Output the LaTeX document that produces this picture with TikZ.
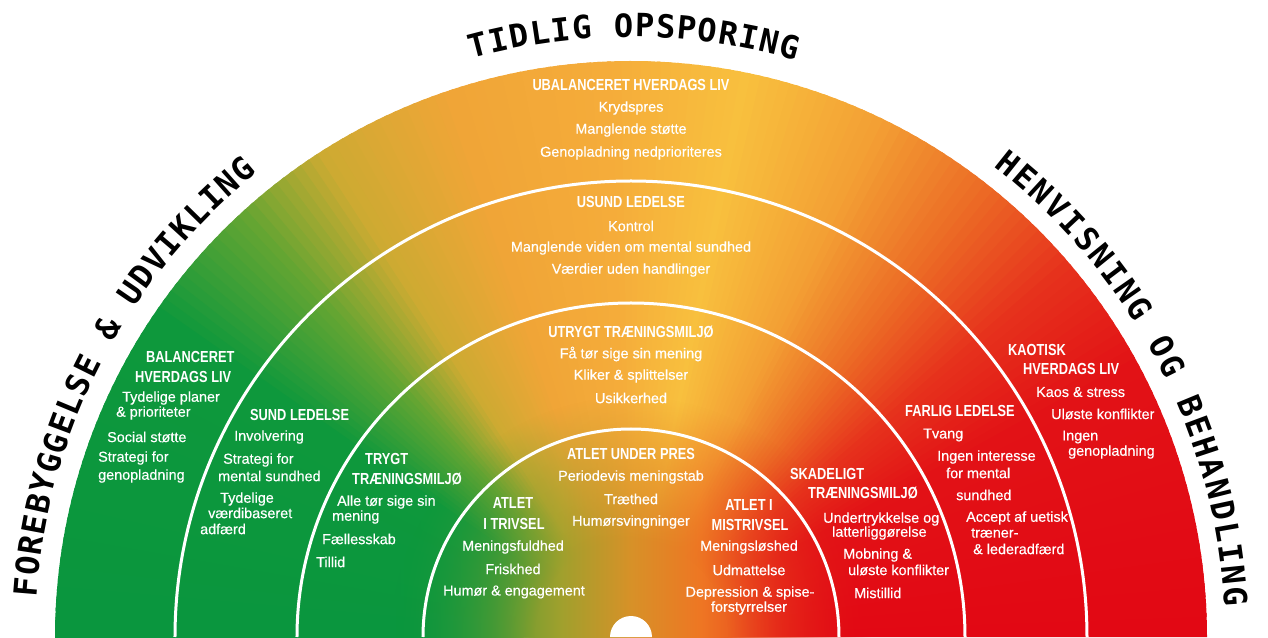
\documentclass[tikz,border=0pt]{standalone}
\usepackage{fontspec}
\setmainfont{Liberation Sans}
\newfontfamily\bodyfam{Liberation Sans}[FakeBold=0.4]
\newfontfamily\hdfam{Liberation Sans}[FakeStretch=0.8, UprightFont=* Bold]
\newfontfamily\ttlfam{DejaVu Sans Mono}[UprightFont=* Bold]
\newcommand\bodysize{\bodyfam\fontsize{14.4}{15}\selectfont}
\newcommand\hdsize{\hdfam\fontsize{16}{17}\selectfont}
\newcommand\ttlsize{\ttlfam\fontsize{32}{32}\selectfont}
\usetikzlibrary{decorations.text,fadings}
\definecolor{g0}{RGB}{10,150,62}
\definecolor{g1}{RGB}{14,152,60}
\definecolor{g2}{RGB}{100,165,50}
\definecolor{y1}{RGB}{205,170,50}
\definecolor{o1}{RGB}{240,165,55}
\definecolor{o2}{RGB}{245,172,58}
\definecolor{y2}{RGB}{248,192,62}
\definecolor{o3}{RGB}{243,160,52}
\definecolor{o4}{RGB}{236,110,38}
\definecolor{r1}{RGB}{230,50,28}
\definecolor{r2}{RGB}{226,18,22}
\definecolor{r3}{RGB}{226,8,20}
\definecolor{m1}{RGB}{90,155,50}
\definecolor{m2}{RGB}{160,160,45}
\definecolor{m3}{RGB}{215,145,40}
\definecolor{m4}{RGB}{238,118,35}
\definecolor{m5}{RGB}{232,60,28}
\definecolor{m6}{RGB}{226,15,22}
\pgfdeclarehorizontalshading{midshade}{100bp}{color(0bp)=(g0); color(25bp)=(g0); color(35.4bp)=(m1); color(42.7bp)=(m2); color(50bp)=(m3); color(57.3bp)=(m4); color(65.6bp)=(m5); color(75bp)=(m6); color(100bp)=(m6)}
\pgfdeclareradialshading{fadeshd}{\pgfpointorigin}{color(0bp)=(pgftransparent!0); color(10bp)=(pgftransparent!0); color(25bp)=(pgftransparent!100); color(50bp)=(pgftransparent!100)}
\pgfdeclarefading{radfade}{\pgfuseshading{fadeshd}}
\tikzset{
  bd/.style={text=white, font=\bodysize, inner sep=0pt},
  hd/.style={text=white, font=\hdsize, inner sep=0pt},
  ringline/.style={draw=white, line width=3pt},
  ttl/.style={decorate, decoration={text along path, text align=fit to path, text={|\ttlsize|#1}}}
}
\begin{document}
\begin{tikzpicture}[x=1pt,y=1pt]
\useasboundingbox (-631,0) rectangle (637,637);
% angular colour gradient
\foreach \a/\b/\ca/\cb in {0/28/r3/r2, 28/40/r2/r1, 40/52/r1/o4, 52/64/o4/o3, 64/78/o3/y2, 78/92/y2/o2, 92/108/o2/o1, 108/122/o1/y1, 122/132/y1/g2, 132/145/g2/g1, 145/180/g1/g0}{
  \pgfmathtruncatemacro\n{\b-\a-1}
  \foreach \i in {0,...,\n}{
    \pgfmathsetmacro\p{100*\i/(\b-\a)}
    \pgfmathsetmacro\anga{\a+\i}
    \pgfmathsetmacro\angb{\a+\i+1.4}
    \colorlet{wc}{\cb!\p!\ca}
    \fill[wc] (0,0) -- (\anga:576) arc[start angle=\anga, end angle=\angb, radius=576] -- cycle;
  }
}
% softer horizontal blend near the centre
\shade[shading=midshade, path fading=radfade] (-240,-240) rectangle (240,240);
% ring lines
\draw[ringline] (456,0) arc[start angle=0, end angle=180, radius=456];
\draw[ringline] (334,0) arc[start angle=0, end angle=180, radius=334];
\draw[ringline] (208,0) arc[start angle=0, end angle=180, radius=208];
\fill[white] (21,0) arc[start angle=0, end angle=180, radius=21] -- cycle;
% curved titles
\path[ttl={FOREBYGGELSE {\&} UDVIKLING}] (176.2:596) arc[start angle=176.2, end angle=128.8, radius=596];
\path[ttl={TIDLIG OPSPORING}] (105.4:600) arc[start angle=105.4, end angle=74, radius=600];
\path[ttl={HENVISNING OG BEHANDLING}] (52.4:594) arc[start angle=52.4, end angle=2.9, radius=594];
% texts (image coordinates)
\begin{scope}[shift={(-631,637)}, yscale=-1]
\node[hd] (u0) at (631,85) {UBALANCERET HVERDAGS LIV};
\node[bd] (u1) at (631,108) {Krydspres};
\node[bd] (u2) at (631,130) {Manglende støtte};
\node[bd] (u3) at (631,153) {Genopladning nedprioriteres};
\node[hd] (s0) at (631,202) {USUND LEDELSE};
\node[bd] (s1) at (631,226) {Kontrol};
\node[bd] (s2) at (631,248) {Manglende viden om mental sundhed};
\node[bd] (s3) at (631,270) {Værdier uden handlinger};
\node[hd] (ut0) at (631,332) {UTRYGT TRÆNINGSMILJØ};
\node[bd] (ut1) at (631,354) {Få tør sige sin mening};
\node[bd] (ut2) at (631,376) {Kliker \& splittelser};
\node[bd] (ut3) at (631,398) {Usikkerhed};
\node[hd] (a0) at (631,454) {ATLET UNDER PRES};
\node[bd] (a1) at (631,477) {Periodevis meningstab};
\node[bd] (a2) at (631,499) {Træthed};
\node[bd] (a3) at (631,522) {Humørsvingninger};
\node[hd] (at0) at (513,503) {ATLET};
\node[hd] (at1) at (514,524) {I TRIVSEL};
\node[bd] (at2) at (513,547) {Meningsfuldhed};
\node[bd] (at3) at (513,569) {Friskhed};
\node[bd] (at4) at (514,592) {Humør \& engagement};
\node[hd] (am0) at (749,505) {ATLET I};
\node[hd] (am1) at (750,525) {MISTRIVSEL};
\node[bd] (am2) at (749,547) {Meningsløshed};
\node[bd] (am3) at (749,570) {Udmattelse};
\node[bd] (am4) at (750,593) {Depression \& spise-};
\node[bd] (am5) at (749,608) {forstyrrelser};
% left outer ring
\node[hd, anchor=west] (b0) at (146,357) {BALANCERET};
\node[hd, anchor=west] (b1) at (135,377) {HVERDAGS LIV};
\node[bd, anchor=west] (b2) at (122,398) {Tydelige planer};
\node[bd, anchor=west] (b3) at (116,413) {\& prioriteter};
\node[bd, anchor=west] (b4) at (107,437) {Social støtte};
\node[bd, anchor=west] (b5) at (98,458) {Strategi for};
\node[bd, anchor=west] (b6) at (98,476) {genopladning};
% left middle ring
\node[hd, anchor=west] (sl0) at (250,415) {SUND LEDELSE};
\node[bd, anchor=west] (sl1) at (234,437) {Involvering};
\node[bd, anchor=west] (sl2) at (223,460) {Strategi for};
\node[bd, anchor=west] (sl3) at (218,476) {mental sundhed};
\node[bd, anchor=west] (sl4) at (220,499) {Tydelige};
\node[bd, anchor=west] (sl5) at (208,513) {værdibaseret};
\node[bd, anchor=west] (sl6) at (200,529) {adfærd};
% left inner ring
\node[hd, anchor=west] (tr0) at (365,459) {TRYGT};
\node[hd, anchor=west] (tr1) at (352,479) {TRÆNINGSMILJØ};
\node[bd, anchor=west] (tr2) at (337,502) {Alle tør sige sin};
\node[bd, anchor=west] (tr3) at (332,517) {mening};
\node[bd, anchor=west] (tr4) at (322,539) {Fællesskab};
\node[bd, anchor=west] (tr5) at (316,562) {Tillid};
% right inner ring
\node[hd, anchor=west] (sk0) at (790,474) {SKADELIGT};
\node[hd, anchor=west] (sk1) at (808,493) {TRÆNINGSMILJØ};
\node[bd, anchor=west] (sk2) at (823,519) {Undertrykkelse og};
\node[bd, anchor=west] (sk3) at (832,533) {latterliggørelse};
\node[bd, anchor=west] (sk4) at (843,555) {Mobning \&};
\node[bd, anchor=west] (sk5) at (848,570) {uløste konflikter};
\node[bd, anchor=west] (sk6) at (854,593) {Mistillid};
% right middle ring
\node[hd, anchor=west] (f0) at (905,411) {FARLIG LEDELSE};
\node[bd, anchor=west] (f1) at (923,435) {Tvang};
\node[bd, anchor=west] (f2) at (937,457) {Ingen interesse};
\node[bd, anchor=west] (f3) at (946,473) {for mental};
\node[bd, anchor=west] (f4) at (956,495) {sundhed};
\node[bd, anchor=west] (f5) at (966,518) {Accept af uetisk};
\node[bd, anchor=west] (f6) at (971,533) {træner-};
\node[bd, anchor=west] (f7) at (973,549) {\& lederadfærd};
% right outer ring
\node[hd, anchor=west] (k0) at (1008,350) {KAOTISK};
\node[hd, anchor=west] (k1) at (1023,369) {HVERDAGS LIV};
\node[bd, anchor=west] (k2) at (1036,392) {Kaos \& stress};
\node[bd, anchor=west] (k3) at (1051,414) {Uløste konflikter};
\node[bd, anchor=west] (k4) at (1062,437) {Ingen};
\node[bd, anchor=west] (k5) at (1068,452) {genopladning};
\end{scope}
\end{tikzpicture}
\end{document}
